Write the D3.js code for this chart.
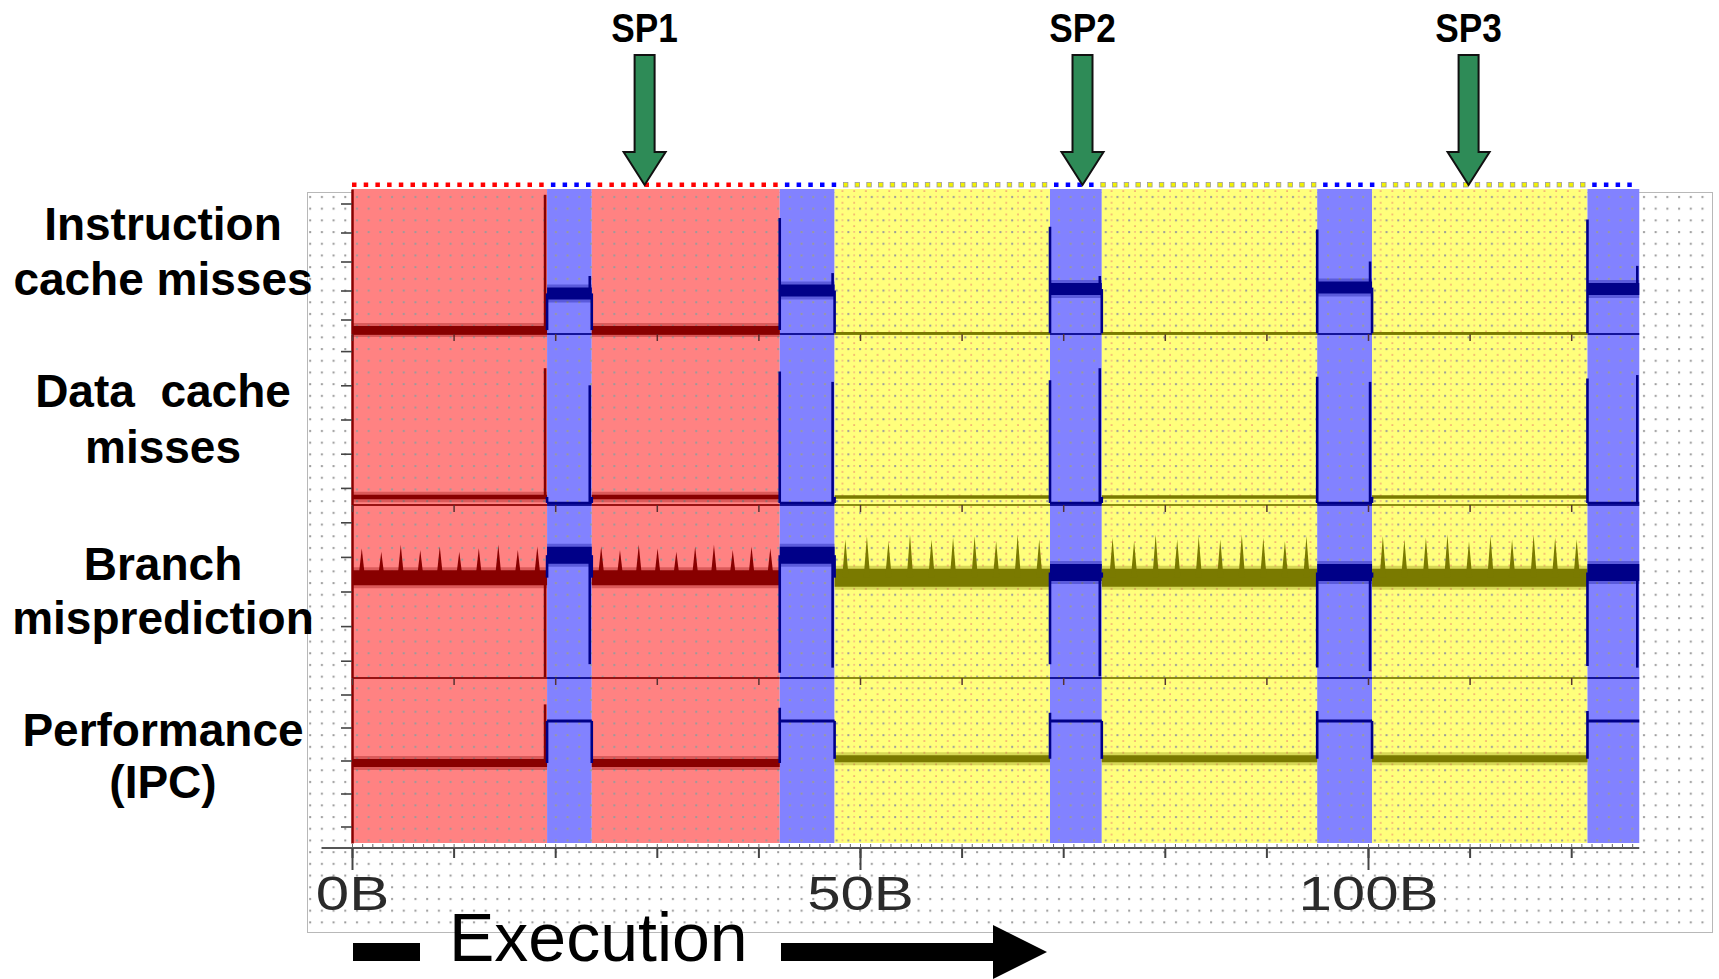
<!DOCTYPE html>
<html>
<head>
<meta charset="utf-8">
<script src="https://cdn.jsdelivr.net/npm/d3@7"></script>
<style>
body { margin: 0; background: #fff; }
svg { display: block; font-family: "Liberation Sans", Arial, sans-serif; }
</style>
</head>
<body>
<script>
// program phases, in billions of executed instructions
const phaseStart = [0, 19.2, 23.6, 42.1, 47.5, 68.7, 73.8, 95.0, 100.4, 121.6];
const phaseEnd   = [19.2, 23.6, 42.1, 47.5, 68.7, 73.8, 95.0, 100.4, 121.6, 126.7];
const phaseKind  = ["A", "B", "A", "B", "C", "B", "C", "B", "C", "B"];

const metricLabels = [["Instruction", "cache misses"], ["Data  cache", "misses"], ["Branch", "misprediction"], ["Performance", "(IPC)"]];

// level of every metric in each phase (percent of its panel)
const icacheLevel = [2.7, 28, 2.7, 30, 0.5, 31, 0.5, 32, 0.5, 31];
const dcacheLevel = [4.7, 1.2, 4.7, 1.2, 4.7, 1.2, 4.7, 1.2, 4.7, 1.2];
const branchLevel = [58, 71, 58, 71, 58, 61, 58, 61, 58, 61];
const ipcLevel    = [48.5, 74, 48.5, 74, 51, 74, 51, 74, 51, 74];

// short kicks at the start / end of a phase
const icacheKickStart = [null, null, null, 80, null, 74, null, 72, null, 79];
const icacheKickEnd   = [96, 40, null, 42, null, 40, null, 50, null, 47];
const dcacheKickStart = [null, null, null, 78, null, 73, null, 75, null, 74];
const dcacheKickEnd   = [80, 70, null, 72, null, 80, null, 72, null, 76];
const branchKickStart = [null, null, null, 3, null, 8, null, 6, null, 7];
const branchKickEnd   = [0.5, 8, null, 6, null, 1, null, 4, null, 6];
const ipcKickStart    = [null, null, null, 82, null, 79, null, 80, null, 80];
const ipcKickEnd      = [84, null, null, null, null, null, null, null, null, null];

// periodic branch misprediction peaks inside the long phases
const branchPeaksRed1 = [75, 73, 77, 74, 76, 73, 75, 77, 74, 76];
const branchPeaksRed2 = [76, 74, 77, 75, 73, 76, 77, 74, 76, 75];
const branchPeaksYel1 = [80, 82, 79, 83, 80, 81, 82, 79, 83, 80];
const branchPeaksYel2 = [81, 79, 83, 80, 82, 80, 83, 81, 79, 82];
const branchPeaksYel3 = [82, 80, 81, 83, 79, 82, 80, 83, 81, 80];

const spNames = ["SP1", "SP2", "SP3"];
const spAt = [28.8, 71.9, 109.9];

const xTicks = [0, 10, 20, 30, 40, 50, 60, 70, 80, 90, 100, 110, 120];
const xLabels = [0, 50, 100];

const W = 1719, H = 979;
const fillColor = {A: "#ff8282", B: "#8282ff", C: "#ffff7c"};
const markColor = {A: "#ff0000", B: "#0000ff", C: "#f2f200"};
const traceColor = {A: "#880000", B: "#000088", C: "#7a7a00"};

const svg = d3.select("body").append("svg").attr("width", W).attr("height", H);
const defs = svg.append("defs");

const cell = 11.7;
const dots = defs.append("pattern").attr("id", "dots")
  .attr("patternUnits", "userSpaceOnUse").attr("width", cell).attr("height", cell)
  .attr("x", 352).attr("y", 192);
dots.append("rect").attr("x", 4).attr("y", 4).attr("width", 2).attr("height", 2).attr("fill", "#9a9a9a");

const ydots = defs.append("pattern").attr("id", "ydots")
  .attr("patternUnits", "userSpaceOnUse").attr("width", cell).attr("height", cell)
  .attr("x", 352).attr("y", 192);
ydots.append("rect").attr("width", cell).attr("height", cell).attr("fill", fillColor.C);
ydots.append("rect").attr("x", 10).attr("y", 10).attr("width", 1.6).attr("height", 1.6).attr("fill", "#f0a070");
ydots.append("rect").attr("x", 10).attr("y", 4).attr("width", 1.6).attr("height", 1.6).attr("fill", "#f0b080");

const x = d3.scaleLinear().domain([0, 50]).range([352, 860]);

const plotTop = 189, plotBottom = 843;
const panelTop = [plotTop, 334, 505, 678];
const panelBottom = [334, 505, 678, plotBottom];
const ys = panelTop.map((t, i) => d3.scaleLinear().domain([0, 100]).range([panelBottom[i], t]));

// frame
svg.append("rect").attr("x", 307.5).attr("y", 192.5).attr("width", 1405).attr("height", 740)
  .attr("fill", "#fff").attr("stroke", "#b8b8b8");

const phases = phaseStart.map((s, i) => ({s: s, e: phaseEnd[i], k: phaseKind[i], i: i}));

svg.append("g").selectAll("rect").data(phases).enter().append("rect")
  .attr("x", d => x(d.s)).attr("y", plotTop)
  .attr("width", d => x(d.e) - x(d.s)).attr("height", plotBottom - plotTop)
  .attr("fill", d => d.k === "C" ? "url(#ydots)" : fillColor[d.k]);

svg.append("rect").attr("x", 308).attr("y", 193).attr("width", 1404).attr("height", 739)
  .attr("fill", "url(#dots)");

// row of marker squares above the phases
const marks = [];
for (let px = x(0); px < x(126.7) - 2; px += cell) {
  const b = x.invert(px + 2);
  const ph = phases.find(p => b >= p.s && b < p.e) || phases[phases.length - 1];
  marks.push({px: px, k: ph.k});
}
svg.append("g").selectAll("rect").data(marks).enter().append("rect")
  .attr("x", d => d.px).attr("y", 182.5).attr("width", 4.5).attr("height", 4.5)
  .attr("fill", d => markColor[d.k])
  .attr("stroke", d => d.k === "C" ? "#999" : "none").attr("stroke-width", 0.8);

// left rulers
ys.forEach((y, p) => {
  const g = svg.append("g").attr("transform", "translate(352,0)");
  g.call(d3.axisLeft(y).tickValues([0, 20, 40, 60, 80]).tickSize(24).tickSizeOuter(0).tickFormat(""));
  g.call(d3.axisLeft(y).tickValues([10, 30, 50, 70, 90]).tickSize(11).tickSizeOuter(0).tickFormat(""));
  g.selectAll(".tick line").attr("stroke", "#444").attr("stroke-width", 1.6);
  g.selectAll(".domain").attr("stroke", traceColor.A).attr("stroke-width", 2.5);
});

// panel baselines with their small ticks
[0, 1, 2].forEach(p => {
  const yb = panelBottom[p];
  svg.append("g").selectAll("line").data(phases).enter().append("line")
    .attr("x1", d => x(d.s)).attr("x2", d => x(d.e)).attr("y1", yb).attr("y2", yb)
    .attr("stroke", d => traceColor[d.k]).attr("stroke-width", 1.8).attr("opacity", 0.85);
  const g = svg.append("g").attr("transform", `translate(0,${yb})`)
    .call(d3.axisBottom(x).tickValues(xTicks).tickSize(7).tickFormat(""));
  g.select(".domain").remove();
  g.selectAll(".tick line").attr("stroke", "#553333").attr("stroke-width", 1.5);
});

const metrics = [
  {level: icacheLevel, ks: icacheKickStart, ke: icacheKickEnd, w: {A: 8, B: 12, C: 2.5}},
  {level: dcacheLevel, ks: dcacheKickStart, ke: dcacheKickEnd, w: {A: 4.5, B: 2.5, C: 3.5}},
  {level: branchLevel, ks: branchKickStart, ke: branchKickEnd, w: {A: 15, B: 17, C: 18}},
  {level: ipcLevel, ks: ipcKickStart, ke: ipcKickEnd, w: {A: 8, B: 3, C: 7}}
];
const branchPeaks = {0: branchPeaksRed1, 2: branchPeaksRed2, 4: branchPeaksYel1, 6: branchPeaksYel2, 8: branchPeaksYel3};

const line = d3.line();
metrics.forEach((m, p) => {
  const y = ys[p];
  const g = svg.append("g");
  phases.forEach(ph => {
    const i = ph.i, lv = m.level[i];
    const seg = line([[x(ph.s), y(lv)], [x(ph.e), y(lv)]]);
    // soft fringe, then the trace itself
    g.append("path").attr("d", seg)
      .attr("stroke", traceColor[ph.k]).attr("stroke-width", m.w[ph.k] + 6)
      .attr("opacity", m.w[ph.k] > 4 ? 0.3 : 0).attr("fill", "none");
    g.append("path").attr("d", seg)
      .attr("stroke", traceColor[ph.k]).attr("stroke-width", m.w[ph.k]).attr("fill", "none");
    // transition at start
    if (i > 0) {
      const pts = [[x(ph.s), y(m.level[i - 1])]];
      if (m.ks[i] != null) pts.push([x(ph.s), y(m.ks[i])]);
      pts.push([x(ph.s), y(lv)]);
      g.append("path").attr("d", line(pts)).attr("fill", "none")
        .attr("stroke", traceColor.B).attr("stroke-width", 2.6);
    }
    if (m.ke[i] != null) {
      g.append("path").attr("d", line([[x(ph.e) - 2, y(lv)], [x(ph.e) - 2, y(m.ke[i])]]))
        .attr("fill", "none").attr("stroke", traceColor[ph.k]).attr("stroke-width", 2.6);
    }
    if (p === 2 && branchPeaks[i]) {
      const pk = branchPeaks[i], d = (ph.e - ph.s) / pk.length;
      g.selectAll(null).data(pk).enter().append("path")
        .attr("d", (v, k) => {
          const c = ph.s + (k + 0.5) * d;
          return line([[x(c - 0.32), y(lv)], [x(c), y(v)], [x(c + 0.32), y(lv)]]) + "Z";
        })
        .attr("fill", traceColor[ph.k]);
    }
  });
});

// bottom axis
svg.append("line").attr("x1", x(-3)).attr("x2", x(126.7)).attr("y1", 848).attr("y2", 848)
  .attr("stroke", "#555").attr("stroke-width", 2);
const minor = d3.range(0, 127, 1);
const gm = svg.append("g").attr("transform", "translate(0,848)")
  .call(d3.axisBottom(x).tickValues(minor).tickSize(-4).tickFormat(""));
gm.select(".domain").remove();
gm.selectAll(".tick line").attr("stroke", "#666");
const ga = svg.append("g").attr("transform", "translate(0,848)")
  .call(d3.axisBottom(x).tickValues(xTicks).tickSize(10).tickFormat(""));
ga.select(".domain").remove();
ga.selectAll(".tick line").attr("stroke", "#444").attr("stroke-width", 2);
const gl = svg.append("g").attr("transform", "translate(0,848)")
  .call(d3.axisBottom(x).tickValues(xLabels).tickSize(22).tickFormat(d => d + "B"));
gl.select(".domain").remove();
gl.selectAll(".tick line").attr("stroke", "#444").attr("stroke-width", 2);
gl.selectAll(".tick text").attr("y", 62).attr("dy", 0)
  .attr("font-size", 48).attr("font-family", "Liberation Sans, Arial, sans-serif")
  .attr("fill", "#2a2a2a").attr("transform", "scale(1.25,1)");

// metric labels
const labelBase = [[240, 295], [407, 463], [580, 634], [746, 798]];
metricLabels.forEach((lines, p) => {
  lines.forEach((t, j) => {
    svg.append("text").attr("x", 163).attr("y", labelBase[p][j])
      .attr("text-anchor", "middle").attr("font-size", 46).attr("font-weight", "bold")
      .style("white-space", "pre").attr("fill", "#000").text(t);
  });
});

// simulation point arrows
spAt.forEach((b, i) => {
  const cx = x(b);
  svg.append("path")
    .attr("d", line([[cx - 10, 55], [cx + 10, 55], [cx + 10, 152], [cx + 21, 152], [cx, 185], [cx - 21, 152], [cx - 10, 152]]) + "Z")
    .attr("fill", "#2e8b57").attr("stroke", "#111").attr("stroke-width", 2);
  svg.append("text").attr("transform", `translate(${cx},42) scale(0.88,1)`)
    .attr("text-anchor", "middle").attr("font-size", 40).attr("font-weight", "bold")
    .attr("fill", "#000").text(spNames[i]);
});

// execution arrow
svg.append("rect").attr("x", 353).attr("y", 943).attr("width", 67).attr("height", 18).attr("fill", "#000");
svg.append("text").attr("x", 449).attr("y", 961).attr("font-size", 68).attr("fill", "#000").text("Execution");
svg.append("path")
  .attr("d", "M781,943 H993 V925 L1047,952 L993,979 V961 H781 Z")
  .attr("fill", "#000");
</script>
</body>
</html>
